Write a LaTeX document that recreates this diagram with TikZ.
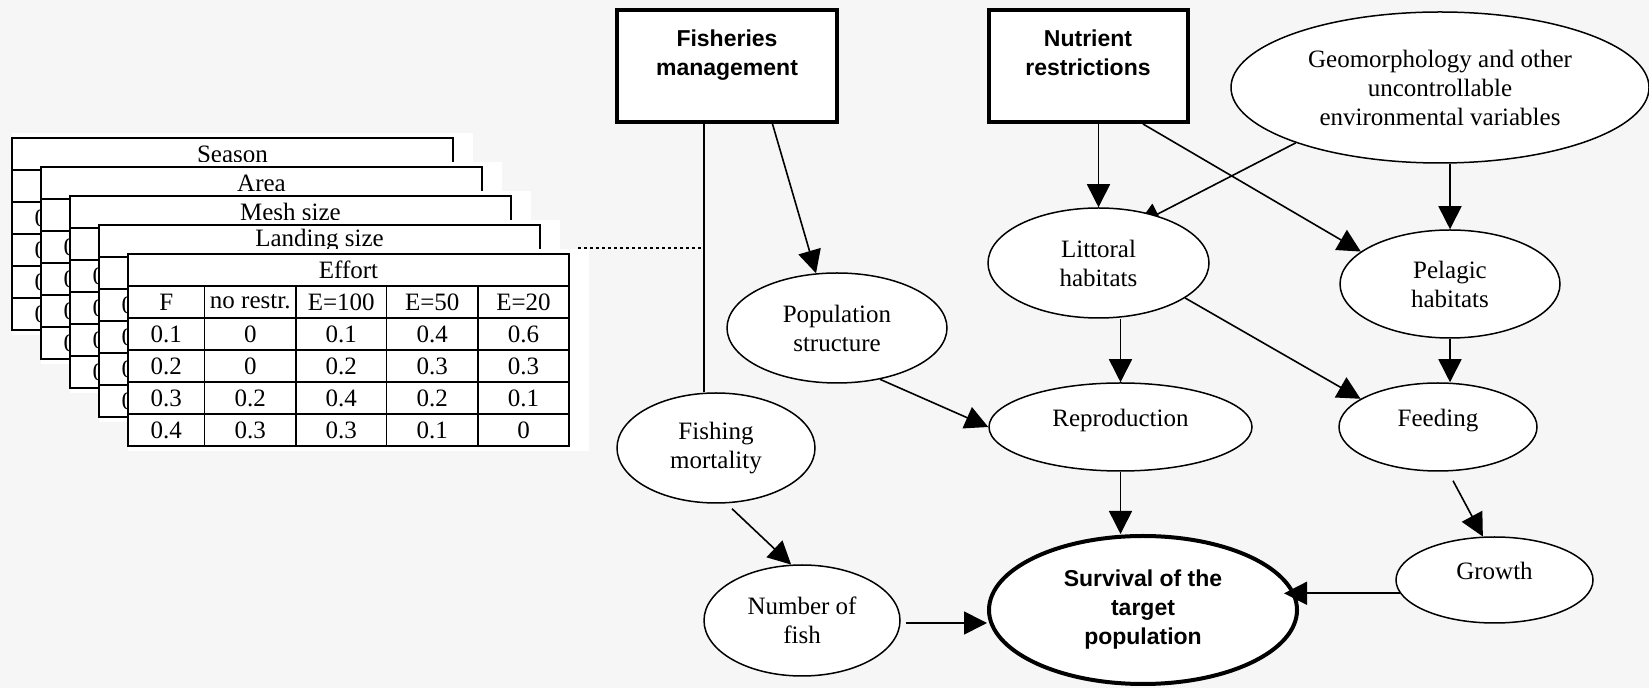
\documentclass[tikz,border=0pt]{standalone}
\usepackage{fontspec}
\setmainfont{Liberation Serif}
\setsansfont{Liberation Sans}
\usetikzlibrary{shapes.geometric,arrows.meta,calc,backgrounds}

\definecolor{bgcol}{RGB}{246,246,246}
\newcommand{\ovalfont}{\fontsize{12.5}{14.5}\selectfont}
\newcommand{\ctrlfont}{\sffamily\bfseries\fontsize{11.5}{14.5}\selectfont}

\tikzset{
  oval/.style={ellipse, draw, fill=white, line width=0.75pt, inner sep=0pt, align=center, font=\ovalfont},
  goal/.style={oval, line width=2pt, font=\ctrlfont},
  ctrl/.style={rectangle, draw, fill=white, line width=2pt, inner sep=0pt, align=center, font=\ctrlfont, text depth=13pt},
  lift/.style={text height=7pt, text depth=7pt},
  link/.style={line width=0.8pt},
  arr/.style={link, -{Triangle[length=11.5pt,width=11.5pt]}},
  cell/.style={inner sep=0pt, font=\ovalfont},
  grid line/.style={line width=0.8pt},
  tab link/.style={line width=0.8pt, dash pattern=on 1.6pt off 1.4pt},
}

% one sheet of the stacked tables: x, y, title, name
\newcommand{\fishtab}[4]{%
  \begin{scope}[shift={(#1,#2)}]
    \fill[white] (0,-5) rectangle (461,197);
    \draw[grid line] (0,0) rectangle (441,192);
    \foreach \r in {1,...,5} \draw[grid line] (0,32*\r) -- (441,32*\r);
    \foreach \c in {76.5,168,258.5,350} \draw[grid line] (\c,32) -- (\c,192);
    \node[cell] (#4-title) at (220.5,16) {#3};
    \node[cell] (#4-F) at (38.25,48) {F};
    \foreach \v [count=\r from 3] in {0.1,0.2,0.3,0.4}
      \node[cell] (#4-\r) at (38.25,32*\r-16) {\v};
  \end{scope}}

\begin{document}
\begin{tikzpicture}[x=0.5pt,y=-0.5pt]
\useasboundingbox (0,0) rectangle (1649,688);
\begin{pgfonlayer}{background}
  \fill[bgcol] (0,0) rectangle (1649,688);
\end{pgfonlayer}

% stacked tables, back to front
\fishtab{12}{138}{Season}{season}
\fishtab{41}{167}{Area}{area}
\fishtab{70}{196}{Mesh size}{mesh}
\fishtab{99}{225}{Landing size}{landing}
\fishtab{128}{254}{Effort}{effort}
\begin{scope}[shift={(128,254)}]
  \foreach \x/\h [count=\c] in {122.25/no restr., 213.25/E=100, 304.25/E=50, 395.5/E=20}
    \node[cell] (effort-h\c) at (\x,48) {\h};
  \foreach \r/\va/\vb/\vc/\vd in {3/0/0.1/0.4/0.6, 4/0/0.2/0.3/0.3, 5/0.2/0.4/0.2/0.1, 6/0.3/0.3/0.1/0}{
    \node[cell] (effort-\r-1) at (122.25,32*\r-16) {\va};
    \node[cell] (effort-\r-2) at (213.25,32*\r-16) {\vb};
    \node[cell] (effort-\r-3) at (304.25,32*\r-16) {\vc};
    \node[cell] (effort-\r-4) at (395.5,32*\r-16) {\vd};
  }
\end{scope}

% decision nodes
\node[ctrl, minimum width=110pt, minimum height=56pt] (fish) at (727,66) {Fisheries\\management};
\node[ctrl, minimum width=99.5pt, minimum height=56pt] (nutr) at (1088,66) {Nutrient\\restrictions};

% chance nodes
\node[oval, minimum width=209pt, minimum height=75.5pt] (geo) at (1440,87.5) {Geomorphology and other\\uncontrollable\\environmental variables};
\node[oval, minimum width=110pt, minimum height=55pt] (pop) at (837,328) {Population\\structure};
\node[oval, minimum width=110.5pt, minimum height=55pt] (litt) at (1098.5,263) {Littoral\\habitats};
\node[oval, minimum width=110pt, minimum height=54pt] (pel) at (1450,284) {Pelagic\\habitats};
\node[oval, minimum width=99pt, minimum height=55pt] (fmort) at (716,448) {Fishing\\mortality};
\node[oval, lift, minimum width=131.5pt, minimum height=44pt] (repro) at (1120.5,427) {Reproduction};
\node[oval, lift, minimum width=99pt, minimum height=44pt] (feed) at (1438,427) {Feeding};
\node[oval, lift, minimum width=98.5pt, minimum height=43pt] (growth) at (1494.5,580) {Growth};
\node[oval, minimum width=98pt, minimum height=55.5pt] (nfish) at (802,620.5) {Number of\\fish};
\node[goal, minimum width=154pt, minimum height=74pt] (surv) at (1143,610) {Survival of the\\target\\population};

% links
\coordinate (mgmt-line) at ([xshift=-11.5pt]fish.south);
\draw[link] (mgmt-line) -- (mgmt-line |- fmort.north);
\coordinate (tab-link) at (578,248);
\draw[tab link] (tab-link) -- (tab-link -| mgmt-line);

\draw[arr] ([xshift=22.75pt]fish.south) -- (pop.111);
\draw[arr] (nutr.south -| litt.north) -- (litt.north);
\draw[arr] ([xshift=27.5pt]nutr.south) -- (pel.160);
\draw[arr] (geo.south -| pel.north) -- (pel.north);
\draw[arr] (litt.south -| repro.north) -- (repro.north);
\draw[arr] (litt.338) -- (feed.160);
\draw[arr] (pel.south) -- (pel.south |- feed.north);
\draw[arr] (pop.310) -- (repro.west);
\draw[arr] (repro.south) -- (repro.south |- surv.north);
\draw[arr] ([shift={(15,9)}]feed.south) -- (growth.105);
\draw[arr, shorten >=-7.5pt] (growth.188) -- (growth.188 -| surv.east);
\draw[arr] ([shift={(16,5)}]fmort.south) -- (nfish.101);
\coordinate (nf-out) at ([shift={(5,2.5)}]nfish.east);
\draw[arr] (nf-out) -- (nf-out -| surv.west);
\begin{pgfonlayer}{background}
  \draw[arr] (geo.201) -- ($(geo.201)!1.13!(litt.40)$);
\end{pgfonlayer}
\end{tikzpicture}
\end{document}
